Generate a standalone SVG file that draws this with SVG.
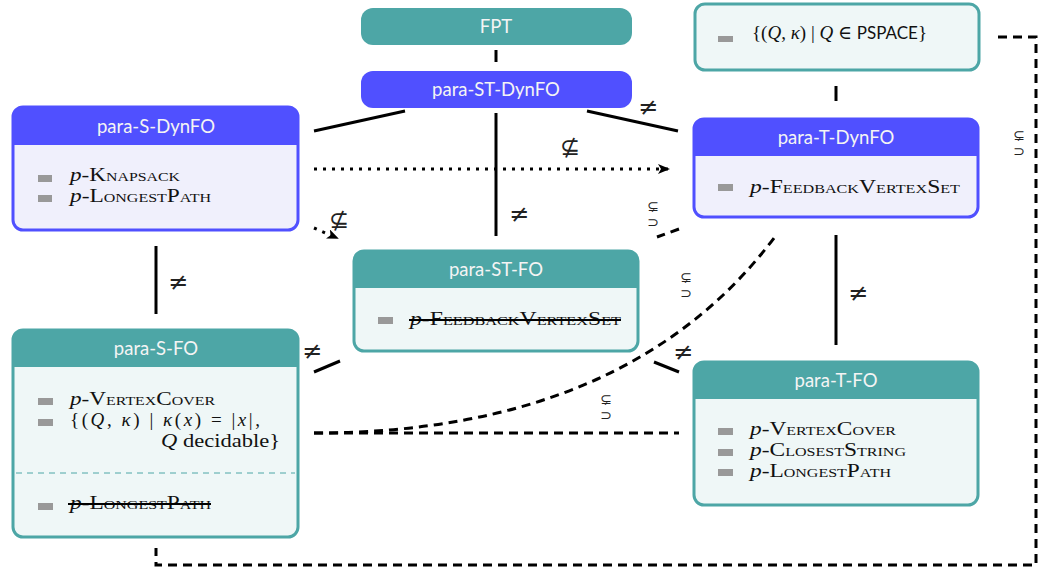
<svg xmlns="http://www.w3.org/2000/svg" width="1042" height="574" viewBox="0 0 1042 574">
<defs>
<marker id="arr" viewBox="0 0 12 10" refX="10" refY="5" markerWidth="12" markerHeight="10" markerUnits="userSpaceOnUse" orient="auto">
<path d="M0,0 L12,5 L0,10 L3,5 Z" fill="#000"/>
</marker>
<style>
.hdr{font-family:Lato,"Open Sans",sans-serif;font-size:18.5px;fill:#f4f4f4;text-anchor:middle}
.it{font-family:"Liberation Serif","DejaVu Serif",serif;font-size:19px;fill:#111}
.sc{font-variant:small-caps}
.i{font-style:italic}
.sf{font-family:Lato,"Liberation Sans",sans-serif;font-size:17px}
.bul{fill:#999}
.teal{fill:#4DA6A6}
.blue{fill:#5050FF}
.tbox{fill:#EFF7F7;stroke:#4DA6A6;stroke-width:3}
.bbox{fill:#F0F0FC;stroke:#5050FF;stroke-width:3}
.sol{stroke:#000;stroke-width:3;fill:none}
.dsh{stroke:#000;stroke-width:3;fill:none;stroke-dasharray:9 6}
.dot{stroke:#000;stroke-width:3;fill:none;stroke-dasharray:3 6}
.lbl{font-family:"DejaVu Sans",sans-serif;font-size:24px;fill:#222;text-anchor:middle}
.sym{font-family:"DejaVu Sans",sans-serif;font-size:14px;fill:#222;text-anchor:middle}
.strk{stroke:#000;stroke-width:2}
</style>
</defs>
<rect width="1042" height="574" fill="#fff"/>

<g id="connectors">
<line class="sol" x1="496" y1="50" x2="496" y2="62"/>
<line class="sol" x1="405" y1="111" x2="314" y2="131"/>
<line class="sol" x1="587" y1="111" x2="678" y2="131"/>
<text class="lbl" x="648" y="115">≠</text>
<line class="sol" x1="496" y1="113" x2="496" y2="236"/>
<text class="lbl" x="519" y="222">≠</text>
<line class="dot" x1="314" y1="169" x2="668" y2="169" marker-end="url(#arr)"/>
<text class="lbl" x="570" y="155">⊈</text>
<line class="dot" x1="314" y1="228" x2="337" y2="238" marker-end="url(#arr)"/>
<text class="lbl" x="339" y="228">⊈</text>
<line class="dsh" x1="679" y1="229" x2="657" y2="237"/>
<text class="sym"><tspan x="653" y="211">⊊</tspan><tspan x="653" y="227">⊃</tspan></text>
<line class="sol" x1="836" y1="86" x2="836" y2="101"/>
<line class="sol" x1="836" y1="235" x2="836" y2="345"/>
<text class="lbl" x="858" y="301">≠</text>
<line class="sol" x1="156" y1="246" x2="156" y2="314"/>
<text class="lbl" x="178" y="290">≠</text>
<line class="sol" x1="314" y1="372" x2="340" y2="361"/>
<text class="lbl" x="312" y="359">≠</text>
<line class="sol" x1="654" y1="362" x2="679" y2="372"/>
<text class="lbl" x="683" y="360">≠</text>
<line class="dsh" x1="314" y1="433" x2="679" y2="433"/>
<text class="sym"><tspan x="606" y="404">⊊</tspan><tspan x="606" y="420">⊃</tspan></text>
<path class="dsh" d="M314,433 Q630,433 777,234"/>
<text class="sym"><tspan x="686" y="282">⊊</tspan><tspan x="686" y="298">⊃</tspan></text>
<path class="dsh" d="M998,37 H1036 V565 H156 V548"/>
<text class="sym"><tspan x="1019" y="140">⊊</tspan><tspan x="1019" y="156">⊃</tspan></text>
</g>

<g id="fpt">
<rect class="teal" x="361" y="8" width="271" height="37" rx="12"/>
<text class="hdr" x="496" y="33">FPT</text>
</g>

<g id="para-st-dynfo">
<rect class="blue" x="361" y="71" width="271" height="37" rx="12"/>
<text class="hdr" x="496" y="96">para-ST-DynFO</text>
</g>

<g id="pspace">
<rect class="tbox" x="695" y="4" width="284" height="66" rx="10"/>
<rect class="bul" x="718" y="36" width="15" height="6"/>
<text class="it" x="752" y="39" font-size="20">{(<tspan class="i">Q</tspan>, <tspan class="i">κ</tspan>) | <tspan class="i">Q</tspan> ∈ <tspan class="sf">PSPACE</tspan>}</text>
</g>

<g id="para-s-dynfo">
<rect class="bbox" x="13" y="107" width="285" height="123" rx="10"/>
<path class="blue" d="M23,107 H288 A10,10 0 0 1 298,117 V145 H13 V117 A10,10 0 0 1 23,107 Z"/>
<text class="hdr" x="156" y="133">para-S-DynFO</text>
<rect class="bul" x="38" y="175" width="14" height="7"/>
<text class="it" x="70" y="181" textLength="110" lengthAdjust="spacingAndGlyphs"><tspan class="i">p</tspan>-<tspan class="sc">Knapsack</tspan></text>
<rect class="bul" x="38" y="195" width="14" height="7"/>
<text class="it" x="70" y="202" textLength="141" lengthAdjust="spacingAndGlyphs"><tspan class="i">p</tspan>-<tspan class="sc">LongestPath</tspan></text>
</g>

<g id="para-t-dynfo">
<rect class="bbox" x="694" y="119" width="284" height="98" rx="10"/>
<path class="blue" d="M704,119 H968 A10,10 0 0 1 978,129 V156 H694 V129 A10,10 0 0 1 704,119 Z"/>
<text class="hdr" x="836" y="144">para-T-DynFO</text>
<rect class="bul" x="718" y="184" width="15" height="7"/>
<text class="it" x="750" y="193" textLength="210" lengthAdjust="spacingAndGlyphs"><tspan class="i">p</tspan>-<tspan class="sc">FeedbackVertexSet</tspan></text>
</g>

<g id="para-st-fo">
<rect class="tbox" x="354" y="251" width="284" height="100" rx="10"/>
<path class="teal" d="M364,251 H628 A10,10 0 0 1 638,261 V288 H354 V261 A10,10 0 0 1 364,251 Z"/>
<text class="hdr" x="496" y="276">para-ST-FO</text>
<rect class="bul" x="378" y="317" width="15" height="7"/>
<text class="it" x="410" y="325" textLength="211" lengthAdjust="spacingAndGlyphs"><tspan class="i">p</tspan>-<tspan class="sc">FeedbackVertexSet</tspan></text>
<line class="strk" x1="409" y1="320" x2="621" y2="320"/>
</g>

<g id="para-s-fo">
<rect class="tbox" x="13" y="330" width="285" height="207" rx="10"/>
<path class="teal" d="M23,330 H288 A10,10 0 0 1 298,340 V367 H13 V340 A10,10 0 0 1 23,330 Z"/>
<text class="hdr" x="156" y="355">para-S-FO</text>
<rect class="bul" x="38" y="398" width="15" height="7"/>
<text class="it" x="70" y="405" textLength="145" lengthAdjust="spacingAndGlyphs"><tspan class="i">p</tspan>-<tspan class="sc">VertexCover</tspan></text>
<rect class="bul" x="38" y="419" width="15" height="7"/>
<text class="it" x="70" y="426" font-size="20" textLength="190">{(<tspan class="i">Q</tspan>, <tspan class="i">κ</tspan>) | <tspan class="i">κ</tspan>(<tspan class="i">x</tspan>) = |<tspan class="i">x</tspan>|,</text>
<text class="it" x="161" y="447" textLength="119" lengthAdjust="spacingAndGlyphs"><tspan class="i">Q</tspan> decidable}</text>
<line x1="16" y1="473" x2="295" y2="473" stroke="#4DA6A6" stroke-width="1" stroke-dasharray="6 5"/>
<rect class="bul" x="38" y="503" width="15" height="7"/>
<text class="it" x="70" y="509" textLength="141" lengthAdjust="spacingAndGlyphs"><tspan class="i">p</tspan>-<tspan class="sc">LongestPath</tspan></text>
<line class="strk" x1="68" y1="504" x2="211" y2="504"/>
</g>

<g id="para-t-fo">
<rect class="tbox" x="694" y="362" width="284" height="143" rx="10"/>
<path class="teal" d="M704,362 H968 A10,10 0 0 1 978,372 V399 H694 V372 A10,10 0 0 1 704,362 Z"/>
<text class="hdr" x="836" y="387">para-T-FO</text>
<rect class="bul" x="718" y="428" width="15" height="7"/>
<text class="it" x="750" y="435" textLength="146" lengthAdjust="spacingAndGlyphs"><tspan class="i">p</tspan>-<tspan class="sc">VertexCover</tspan></text>
<rect class="bul" x="718" y="449" width="15" height="7"/>
<text class="it" x="750" y="456" textLength="156" lengthAdjust="spacingAndGlyphs"><tspan class="i">p</tspan>-<tspan class="sc">ClosestString</tspan></text>
<rect class="bul" x="718" y="469" width="15" height="7"/>
<text class="it" x="750" y="477" textLength="141" lengthAdjust="spacingAndGlyphs"><tspan class="i">p</tspan>-<tspan class="sc">LongestPath</tspan></text>
</g>
</svg>
